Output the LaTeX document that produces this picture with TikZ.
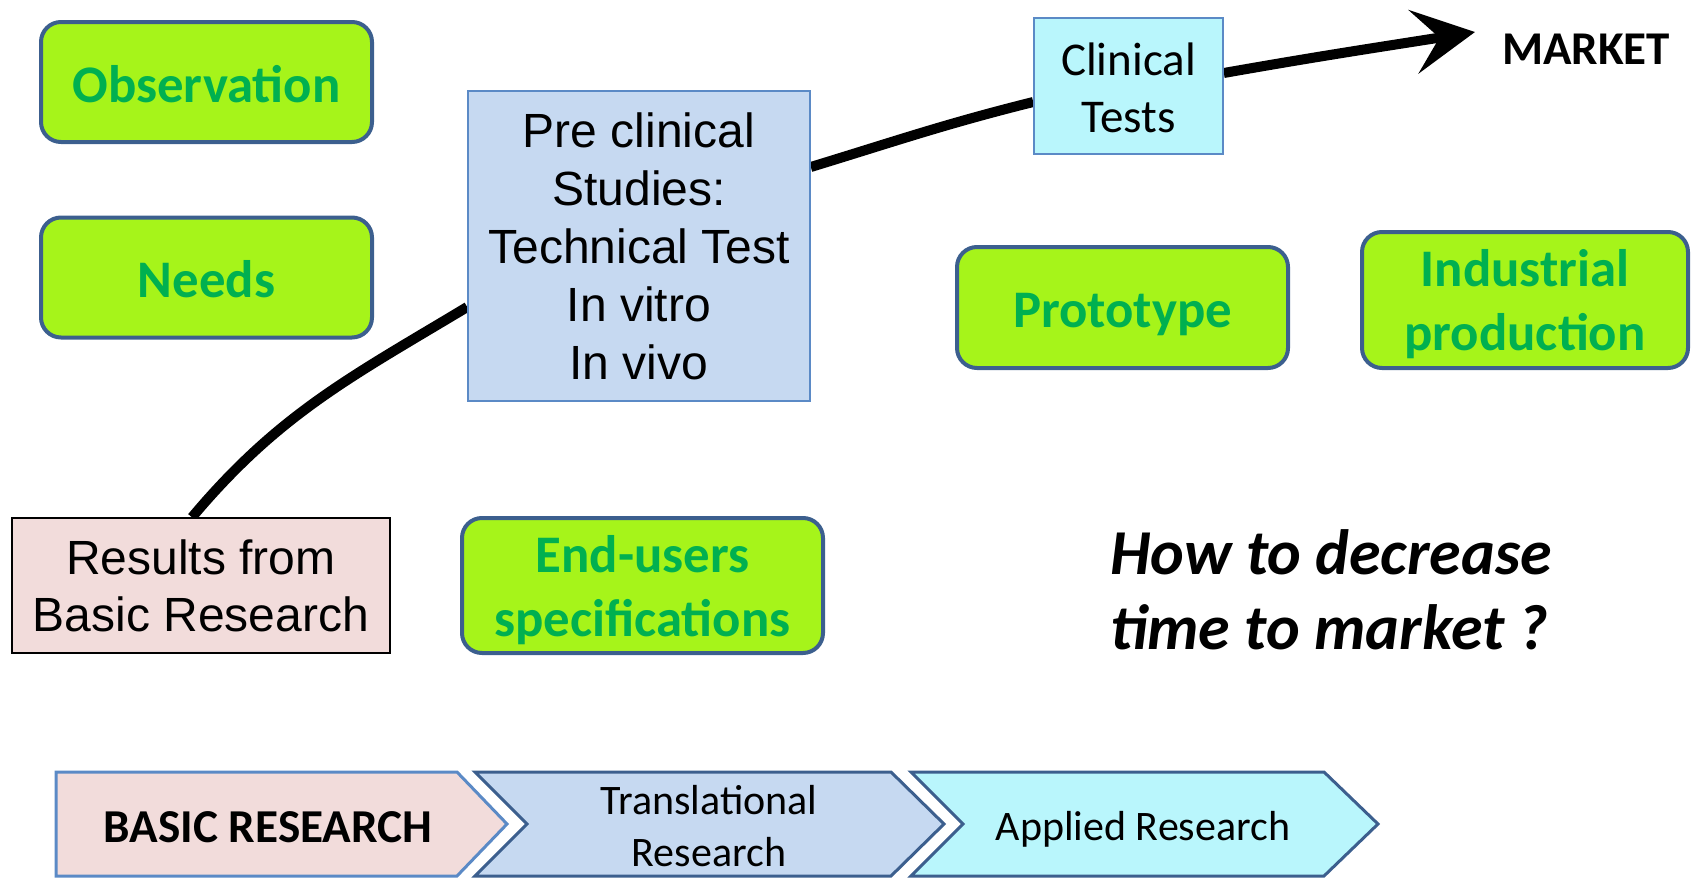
\documentclass[tikz,border=0pt]{standalone}
\usepackage{fontspec}
\setmainfont{Carlito}
\newfontfamily\arialfont{Liberation Sans}
\usetikzlibrary{positioning,arrows.meta,backgrounds}

\definecolor{limefill}{HTML}{A6F41A}
\definecolor{limetext}{HTML}{00B050}
\definecolor{darkedge}{HTML}{3C5F8E}
\definecolor{lightedge}{HTML}{5B8AC6}
\definecolor{paleblue}{HTML}{C6D9F1}
\definecolor{palecyan}{HTML}{B9F6FC}
\definecolor{palepink}{HTML}{F2DCDB}

\tikzset{
  limebox/.style={draw=darkedge, line width=2pt, fill=limefill, rounded corners=10pt,
    text=limetext, font=\fontsize{26.4}{32}\selectfont\bfseries, align=center,
    inner sep=0pt, minimum width=165.5pt, minimum height=60pt},
  oneline/.style={text height=20pt, text depth=0pt},
  studybox/.style={draw=lightedge, line width=0.8pt, fill=paleblue, align=center,
    font=\arialfont\fontsize{24}{29}\selectfont, inner sep=0pt},
  trialbox/.style={draw=lightedge, line width=0.8pt, fill=palecyan, align=center,
    font=\fontsize{23.5}{28.5}\selectfont, inner sep=0pt},
  resultbox/.style={draw=black, line width=0.7pt, fill=palepink, align=center,
    font=\arialfont\fontsize{24}{28.5}\selectfont, inner sep=0pt},
  path line/.style={line width=5pt, black},
  chevron/.style={line width=1.5pt, draw=darkedge},
  phase/.style={align=center, font=\fontsize{21}{26}\selectfont}
}

\begin{document}
\begin{tikzpicture}[x=0.5pt, y=0.5pt]
    \useasboundingbox (0,0) rectangle (1691,-878);

    % research path boxes
    \node[resultbox, minimum width=189pt, minimum height=67.5pt]  (results)  at (201,-585.5)  {Results from\\Basic Research};
    \node[studybox, minimum width=171pt, minimum height=155pt]    (preclin)  at (639,-246)    {Pre clinical\\Studies:\\Technical Test\\In vitro\\In vivo};
    \node[trialbox, minimum width=94.5pt, minimum height=68pt]    (clinical) at (1128.5,-86)  {\rule{0pt}{18pt}Clinical\\Tests};
    \coordinate                                                    (tip)      at (1475,-32);
    \node[font=\fontsize{23.5}{28}\selectfont\bfseries]           (market)   at (1586,-49)   {MARKET};

    % green boxes
    \node[limebox, oneline]                               (obs)       at (206.5,-82)    {Observation};
    \node[limebox, oneline]                               (needs)     at (206.5,-277.5) {Needs};
    \node[limebox, oneline, minimum height=60.5pt]        (proto)     at (1122.5,-307.5){Prototype};
    \node[limebox, minimum width=163pt, minimum height=68pt]    (indus)    at (1525,-300)   {\rule{0pt}{23pt}Industrial\\production};
    \node[limebox, minimum width=180.5pt, minimum height=67.5pt] (endusers) at (642.5,-585.5) {\rule{0pt}{23pt}End-users\\specifications};

    \node[anchor=west, align=left, font=\fontsize{32}{37.5}\selectfont\bfseries\itshape] (question) at (1103,-590)
        {How to decrease\\time to market ?};

    \begin{scope}[on background layer]
        \path[path line]
            ([xshift=-4.5pt]results.north)   edge[out=50, in=211]  ([yshift=-30.5pt]preclin.west)
            ([yshift=39.5pt]preclin.east)    edge[out=17, in=194]  ([yshift=-8pt]clinical.west)
            ;
        \draw[path line, -{Stealth[length=31pt, width=32pt, inset=13pt]}]
            ([yshift=6.5pt]clinical.east) to[out=10, in=189] (tip);
    \end{scope}

    % research phases
    \draw[chevron, draw=lightedge, fill=palepink]
        (56,-772) -- (457,-772) -- (507,-824) -- (457,-876) -- (56,-876) -- cycle;
    \draw[chevron, fill=paleblue]
        (475,-772) -- (891,-772) -- (944,-824) -- (891,-876) -- (475,-876) -- (527,-824) -- cycle;
    \draw[chevron, fill=palecyan]
        (911,-772) -- (1324,-772) -- (1378,-824) -- (1324,-876) -- (911,-876) -- (963,-824) -- cycle;
    \node[phase, font=\fontsize{23.6}{28}\selectfont\bfseries] (basic)   at (268,-827)  {BASIC RESEARCH};
    \node[phase]                                               (transl)  at (709,-826)  {Translational\\Research};
    \node[phase]                                               (applied) at (1143,-829) {Applied Research};
\end{tikzpicture}
\end{document}
